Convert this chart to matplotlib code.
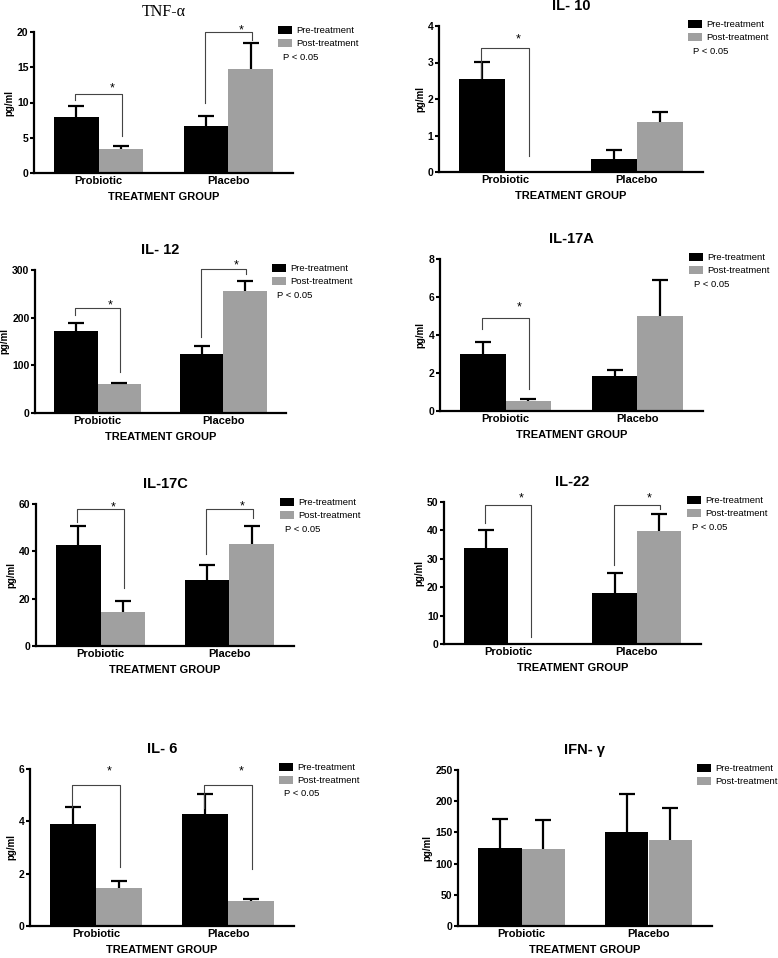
################################################################################
# Cytokine levels before / after treatment, probiotic vs placebo (8 panels)
################################################################################
import numpy as np
import matplotlib.pyplot as plt
import matplotlib as mpl

# %%
# Data (pg/ml); each pair is [Probiotic, Placebo]
groups = ['Probiotic', 'Placebo']
series = ['Pre-treatment', 'Post-treatment']
cytokines = ['TNF-\u03b1', 'IL- 10', 'IL- 12', 'IL-17A',
             'IL-17C', 'IL-22', 'IL- 6', 'IFN- \u03b3']

pre_mean = [[8.0, 6.7], [2.55, 0.36], [172, 124], [3.0, 1.85],
            [42.7, 27.7], [33.7, 18.1], [3.9, 4.29], [124.7, 150.4]]
pre_err = [[1.5, 1.4], [0.46, 0.25], [16, 17], [0.65, 0.33],
           [8.1, 6.4], [6.3, 6.9], [0.64, 0.76], [47.3, 60.6]]
post_mean = [[3.4, 14.7], [0.0, 1.37], [60, 256.5], [0.51, 5.0],
             [14.4, 42.9], [0.0, 39.9], [1.47, 0.95], [123.6, 138]]
post_err = [[0.4, 3.7], [0.0, 0.28], [3, 19.5], [0.11, 1.9],
            [4.7, 8.0], [0.0, 5.9], [0.24, 0.07], [46.4, 51]]

y_max = [20, 4, 300, 8, 60, 50, 6, 250]
y_step = [5, 1, 100, 2, 20, 10, 2, 50]

# significance brackets: (group index, left start, top, right end, star)
brackets = [
    [(0, 10.35, 11.2, 5.2, 12.5), (1, 9.9, 20, 18.9, 20.8)],
    [(0, 2.57, 3.39, 0.43, 3.73)],
    [(0, 205, 221, 86, 233), (1, 160, 302, 291, 317)],
    [(0, 4.3, 4.9, 1.18, 5.67)],
    [(0, 52.6, 58, 24.3, 60.4), (1, 38.8, 58, 54, 60.7)],
    [(0, 42.5, 49, 2.5, 52.5), (1, 27.9, 49, 47.6, 52.5)],
    [(0, 4.5, 5.39, 2.26, 6.04), (1, 4.5, 5.39, 2.16, 6.04)],
    [],
]
show_p = [True] * 7 + [False]

################################################################################
# %%
plt.rc('font', family='Liberation Sans')

W, H = 778, 958
# axes boxes in pixels: left, right, top, bottom
boxes = [(34, 293, 32, 173), (439, 703, 26, 172),
         (35, 286, 270, 413), (440, 703, 259, 411),
         (36, 294, 504, 646), (444, 701, 502, 644),
         (30, 294, 769, 926), (458, 712, 770, 926)]
# legend: patch left x, first row centre y
leg_pos = [(278, 31), (688, 25), (272, 269), (689, 258),
           (280, 503), (687, 501), (279, 768), (697, 769)]

black = '#000000'
grey = '#a0a0a0'
bw = 0.345
x = np.arange(len(groups))

fig = plt.figure(figsize=(W / 100, H / 100), dpi=100)

for i in range(len(cytokines)):
    l, r, t, b = boxes[i]
    ax = fig.add_axes([l / W, 1 - b / H, (r - l) / W, (b - t) / H])

    b1 = ax.bar(x - bw / 2, pre_mean[i], bw, color=black, label=series[0])
    b2 = ax.bar(x + bw / 2, post_mean[i], bw, color=grey, label=series[1])
    for xs, m, e in [(x - bw / 2, pre_mean[i], pre_err[i]),
                     (x + bw / 2, post_mean[i], post_err[i])]:
        m = np.array(m)
        e = np.array(e)
        keep = m > 0
        eb = ax.errorbar(xs[keep], m[keep],
                         yerr=[np.zeros(keep.sum()), e[keep]],
                         fmt='none', ecolor='k', elinewidth=1.6, capsize=6,
                         capthick=1.6, zorder=3)
        # only the upper cap, as in the original
        eb[1][0].set_visible(False)

    for g, yl, yt, yr, ys in brackets[i]:
        xl, xr = g - 0.18, g + 0.18
        ax.plot([xl, xl, xr, xr], [yl, yt, yt, yr], color='#444444',
                lw=0.8, clip_on=False, zorder=4)
        ax.annotate('*', (g + 0.1, ys), xytext=(0, -5),
                    textcoords='offset points', ha='center', va='baseline',
                    fontsize=9, annotation_clip=False)

    ax.set_xlim(-0.5, 1.5)
    ax.set_ylim(0, y_max[i])
    ax.set_yticks(np.arange(0, y_max[i] + y_step[i] / 2, y_step[i]))
    ax.set_xticks(x)
    ax.set_xticklabels(groups, fontweight='bold', fontsize=8)
    for lab in ax.get_yticklabels():
        lab.set_fontweight('bold')
        lab.set_fontsize(7.5)
    ax.tick_params(axis='y', direction='out', length=3, width=1.5, pad=1)
    ax.tick_params(axis='x', length=0, pad=2.5)
    for s in ['top', 'right']:
        ax.spines[s].set_visible(False)
    for s in ['left', 'bottom']:
        ax.spines[s].set_linewidth(1.6)

    ax.set_ylabel('pg/ml', fontsize=7, fontweight='bold', labelpad=2)
    ax.set_xlabel('TREATMENT GROUP', fontsize=8, fontweight='bold',
                  labelpad=4)

    if i == 0:
        ax.annotate(cytokines[i], (0.5, 1), xytext=(0, 14.4),
                    xycoords='axes fraction', textcoords='offset points',
                    ha='center', va='center', fontsize=11.5,
                    family='Liberation Serif')
    else:
        ax.annotate(cytokines[i], (0.5, 1), xytext=(0, 14.4),
                    xycoords='axes fraction', textcoords='offset points',
                    ha='center', va='center', fontsize=10.5,
                    fontweight='bold')

    lx, ly = leg_pos[i]
    ax.legend(handles=[b1, b2], loc='upper left',
              bbox_to_anchor=(lx / W, 1 - (ly - 5) / H),
              bbox_transform=fig.transFigure, frameon=False, fontsize=6.8,
              handlelength=1.5, handleheight=0.85, handletextpad=0.4,
              labelspacing=0.45, borderpad=0, borderaxespad=0)
    if show_p[i]:
        fig.text((lx + 5) / W, 1 - (ly + 26) / H, 'P < 0.05', fontsize=6.8,
                 ha='left', va='center')

plt.savefig('out.png', dpi=100)
plt.close()
